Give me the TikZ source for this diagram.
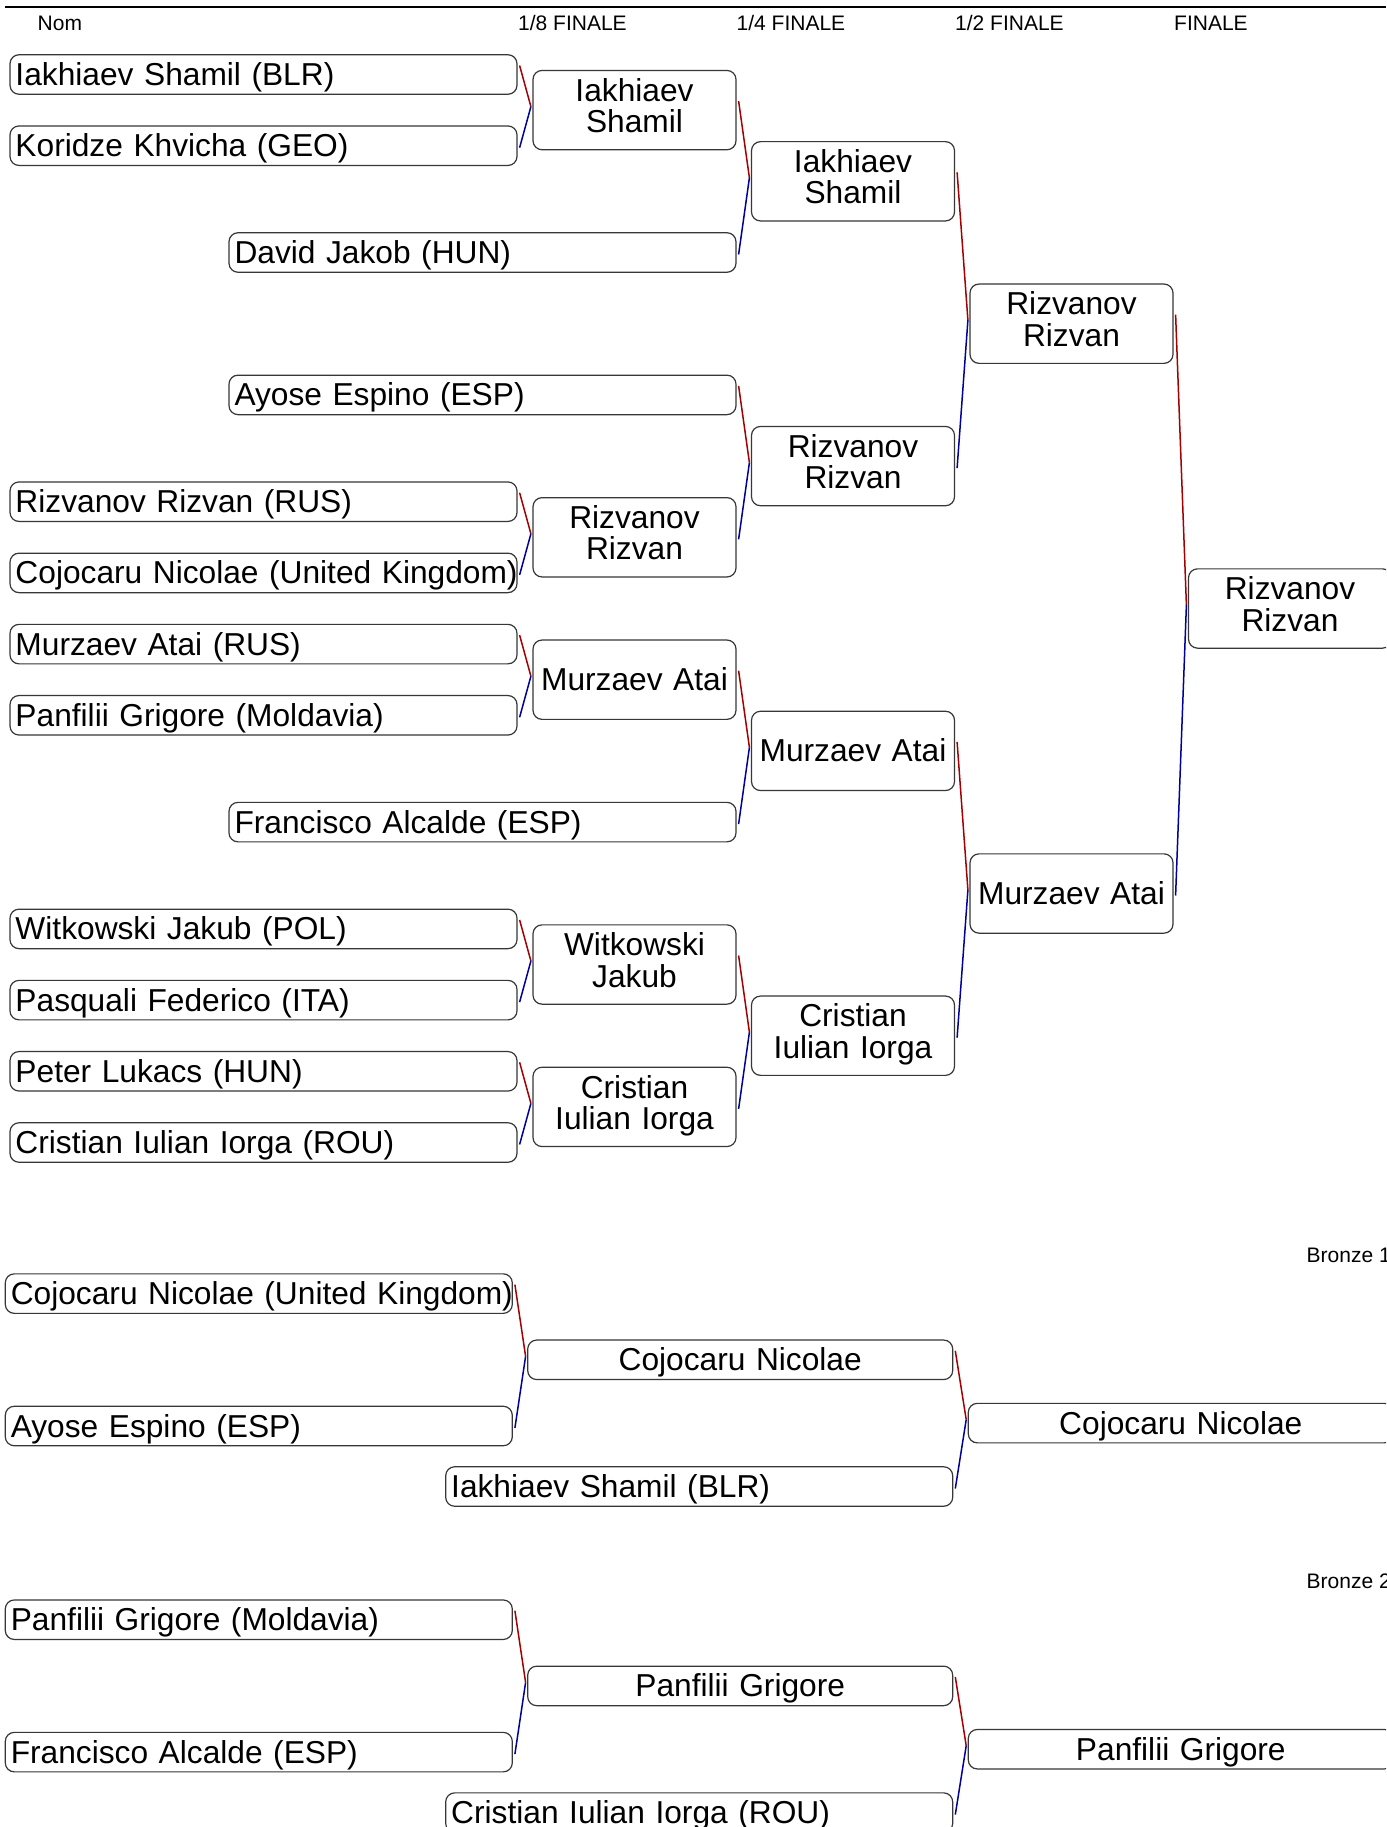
\documentclass[tikz,border=0pt]{standalone}
\usepackage{fontspec}
\setmainfont{Liberation Sans}
\usetikzlibrary{calc}
\definecolor{cred}{RGB}{165,0,0}
\definecolor{cblue}{RGB}{0,0,155}
\definecolor{bord}{RGB}{55,55,55}
\tikzset{
 box/.style={draw=bord, line width=1.2pt, rounded corners=9pt, inner xsep=5.5pt, inner ysep=0pt,
   font=\fontsize{31.7}{31.3}\selectfont, text height=24pt, text depth=2pt},
 wide/.style={box, text width=496pt, align=left, minimum height=39.5pt},
 narrow/.style={box, text width=192pt, align=center, minimum height=79.3pt},
 narrowtwo/.style={narrow, text depth=41.5pt},
 mid/.style={box, text width=414pt, align=center, minimum height=39.5pt},
 hdr/.style={font=\fontsize{21}{24}\selectfont, inner sep=0pt, anchor=base west},
 rline/.style={draw=cred, line width=1.5pt},
 bline/.style={draw=cblue, line width=1.5pt},
}
\newcommand{\bconn}[3]{%
  \coordinate (j-#3) at ($(#3.west)+(-1.5,-3.5)$);
  \draw[rline] ($(#1.east)+(2,-9)$) -- (j-#3);
  \draw[bline] (j-#3) -- ($(#2.east)+(2,2)$);
}
\begin{document}
\begin{tikzpicture}[x=1pt,y=-1pt]
\useasboundingbox (0,0) rectangle (1386,1827);
\clip (0,0) rectangle (1386,1827);
\fill[white] (0,0) rectangle (1386,1827);

% header
\coordinate (hl) at (5,7.3);
\coordinate (hr) at (1386,7.3);
\draw[line width=2pt] (hl) -- (hr);
\node[hdr] (hnom) at (37.5,31) {Nom};
\node[hdr] (h8) at (518,31) {1/8 FINALE};
\node[hdr] (h4) at (736.5,31) {1/4 FINALE};
\node[hdr] (h2) at (955,31) {1/2 FINALE};
\node[hdr] (hf) at (1174,31) {FINALE};

% first column
\node[wide] (a0) at (263.5,74.5) {Iakhiaev Shamil (BLR)};
\node[wide] (a1) at (263.5,145.7) {Koridze Khvicha (GEO)};
\node[wide] (y1) at (482.5,252.5) {David Jakob (HUN)};
\node[wide] (y2) at (482.5,394.9) {Ayose Espino (ESP)};
\node[wide] (a6) at (263.5,501.7) {Rizvanov Rizvan (RUS)};
\node[wide] (a7) at (263.5,572.9) {\mbox{Cojocaru Nicolae (United Kingdom)}};
\node[wide] (a8) at (263.5,644.1) {Murzaev Atai (RUS)};
\node[wide] (a9) at (263.5,715.3) {Panfilii Grigore (Moldavia)};
\node[wide] (y3) at (482.5,822.1) {Francisco Alcalde (ESP)};
\node[wide] (a12) at (263.5,928.9) {Witkowski Jakub (POL)};
\node[wide] (a13) at (263.5,1000.1) {Pasquali Federico (ITA)};
\node[wide] (a14) at (263.5,1071.3) {Peter Lukacs (HUN)};
\node[wide] (a15) at (263.5,1142.5) {Cristian Iulian Iorga (ROU)};

% 1/8
\node[narrowtwo] (b0) at (634.5,110.1) {Iakhiaev\\Shamil};
\node[narrowtwo] (b3) at (634.5,537.3) {Rizvanov\\Rizvan};
\node[narrow] (b4) at (634.5,679.7) {Murzaev Atai};
\node[narrowtwo] (b6) at (634.5,964.5) {Witkowski\\Jakub};
\node[narrowtwo] (b7) at (634.5,1106.9) {Cristian\\Iulian Iorga};

% 1/4
\node[narrowtwo] (c0) at (853,181.3) {Iakhiaev\\Shamil};
\node[narrowtwo] (c1) at (853,466.1) {Rizvanov\\Rizvan};
\node[narrow] (c2) at (853,750.9) {Murzaev Atai};
\node[narrowtwo] (c3) at (853,1035.7) {Cristian\\Iulian Iorga};

% 1/2
\node[narrowtwo] (d0) at (1071.5,323.7) {Rizvanov\\Rizvan};
\node[narrow] (d1) at (1071.5,893.5) {Murzaev Atai};

% final
\node[narrowtwo] (e0) at (1290,608.5) {Rizvanov\\Rizvan};

\bconn{a0}{a1}{b0}
\bconn{a6}{a7}{b3}
\bconn{a8}{a9}{b4}
\bconn{a12}{a13}{b6}
\bconn{a14}{a15}{b7}
\bconn{b0}{y1}{c0}
\bconn{y2}{b3}{c1}
\bconn{b4}{y3}{c2}
\bconn{b6}{b7}{c3}
\bconn{c0}{c1}{d0}
\bconn{c2}{c3}{d1}
\bconn{d0}{d1}{e0}

% bronze 1
\node[hdr] (br1) at (1306.5,1262) {Bronze 1};
\node[wide] (p1) at (258.8,1293.6) {\mbox{Cojocaru Nicolae (United Kingdom)}};
\node[wide] (p2) at (258.8,1426) {Ayose Espino (ESP)};
\node[mid] (pm) at (740.2,1359.8) {Cojocaru Nicolae};
\node[wide] (p3) at (699.2,1486.5) {Iakhiaev Shamil (BLR)};
\node[mid] (pr) at (1180.8,1423.1) {Cojocaru Nicolae};
\bconn{p1}{p2}{pm}
\bconn{pm}{p3}{pr}

% bronze 2
\node[hdr] (br2) at (1306.5,1588.1) {Bronze 2};
\node[wide] (q1) at (258.8,1619.7) {Panfilii Grigore (Moldavia)};
\node[wide] (q2) at (258.8,1752.1) {Francisco Alcalde (ESP)};
\node[mid] (qm) at (740.2,1685.9) {Panfilii Grigore};
\node[wide] (q3) at (699.2,1812.6) {Cristian Iulian Iorga (ROU)};
\node[mid] (qr) at (1180.8,1749.2) {Panfilii Grigore};
\bconn{q1}{q2}{qm}
\bconn{qm}{q3}{qr}
\end{tikzpicture}
\end{document}
